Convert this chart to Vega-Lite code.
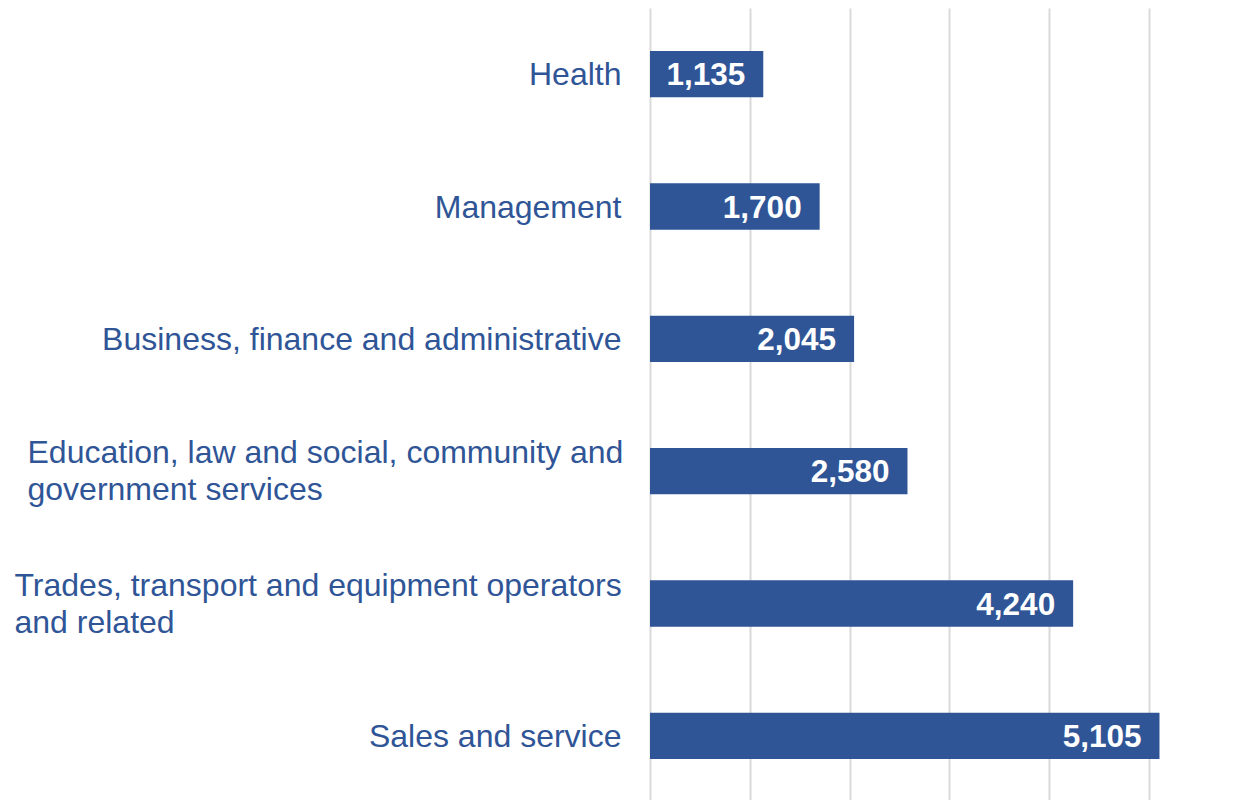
{
  "$schema": "https://vega.github.io/schema/vega-lite/v6.json",
  "width": 499,
  "height": 794,
  "autosize": "none",
  "padding": {"left": 650, "top": 8, "right": 88, "bottom": 0},
  "background": "white",
  "config": {"view": {"stroke": null}, "font": "Liberation Sans"},
  "data": {
    "values": [
      {"occupation": "Health", "count": 1135},
      {"occupation": "Management", "count": 1700},
      {"occupation": "Business, finance and administrative", "count": 2045},
      {"occupation": "Education, law and social, community and\ngovernment services", "count": 2580},
      {"occupation": "Trades, transport and equipment operators\nand related", "count": 4240},
      {"occupation": "Sales and service", "count": 5105}
    ]
  },
  "encoding": {
    "y": {
      "field": "occupation",
      "type": "nominal",
      "sort": null,
      "scale": {"paddingInner": 0.65, "paddingOuter": 0.325},
      "axis": {
        "title": null,
        "domain": false,
        "ticks": false,
        "labelExpr": "split(datum.value, '\\n')",
        "labelFont": "Liberation Sans",
        "labelFontSize": 32,
        "labelLineHeight": 37,
        "labelColor": "#2F5597",
        "labelLimit": 700,
        "labelAlign": {"condition": {"test": "indexof(datum.value, 'Trades') == 0 || indexof(datum.value, 'Education') == 0", "value": "left"}, "value": "right"},
        "labelPadding": {"condition": [{"test": "indexof(datum.value, 'Trades') == 0", "value": 636}, {"test": "indexof(datum.value, 'Education') == 0", "value": 623}], "value": 29},
        "labelOffset": {"condition": {"test": "indexof(datum.value, 'Trades') == 0 || indexof(datum.value, 'Education') == 0", "value": -18}, "value": 1}
      }
    },
    "x": {
      "field": "count",
      "type": "quantitative",
      "scale": {"domain": [0, 5000], "nice": false},
      "axis": {
        "title": null,
        "labels": false,
        "ticks": false,
        "domain": false,
        "grid": true,
        "values": [0, 1000, 2000, 3000, 4000, 5000],
        "gridColor": "#D9D9D9",
        "gridWidth": 2
      }
    }
  },
  "layer": [
    {"mark": {"type": "bar", "color": "#2F5597"}},
    {
      "mark": {"type": "text", "align": "right", "baseline": "middle", "dx": -18, "dy": 2, "color": "white", "fontWeight": "bold", "fontSize": 31.5, "font": "Liberation Sans"},
      "encoding": {"text": {"field": "count", "type": "quantitative", "format": ","}}
    }
  ]
}
